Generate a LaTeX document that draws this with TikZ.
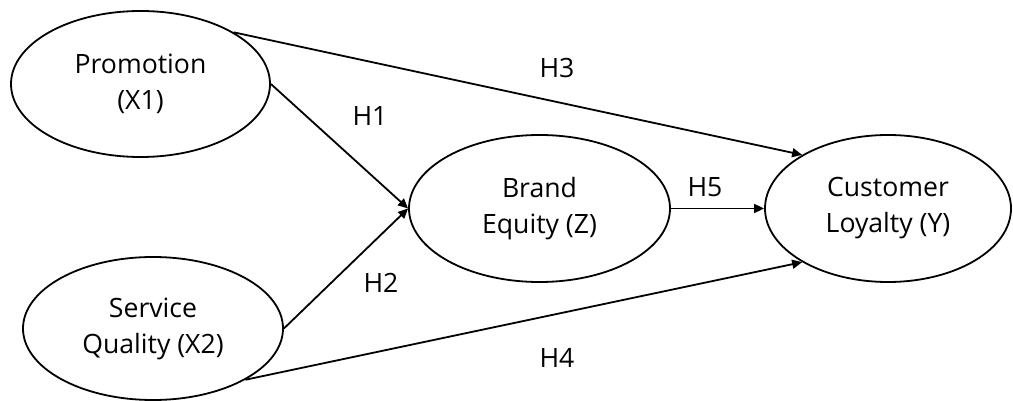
\documentclass[tikz,border=0pt]{standalone}
\usepackage{fontspec}
\setmainfont{Open Sans}
\usetikzlibrary{shapes.geometric,arrows.meta}
\begin{document}
\begin{tikzpicture}[x=1pt,y=1pt,
  latent/.style={draw=black, line width=1.8pt, ellipse, inner sep=0pt, align=center,
    font=\fontsize{26.6}{36}\selectfont},
  hlabel/.style={font=\fontsize{26.6}{36}\selectfont, inner sep=0pt},
  path/.style={line width=1.8pt, -{Triangle[length=10pt,width=9pt]}}]
\useasboundingbox (0,0) rectangle (1013,-401);
\node[latent, minimum width=259pt, minimum height=146pt] (P) at (140.5,-84) {Promotion\\(X1)};
\node[latent, minimum width=260pt, minimum height=143pt] (S) at (153,-328.5) {Service\\Quality (X2)};
\node[latent, minimum width=261pt, minimum height=147pt] (B) at (539.5,-208.5) {Brand\\Equity (Z)};
\node[latent, minimum width=246pt, minimum height=147pt] (C) at (888,-208.5) {Customer\\Loyalty (Y)};
\draw[path] (P.29) -- (C.148);
\draw[path] (P.east) -- (B.west);
\draw[path] (S.east) -- (B.west);
\draw[path] (S.-29) -- (C.212);
\draw[path] (B.east) -- (C.west);
\node[hlabel] (h1) at (370,-116) {H1};
\node[hlabel] (h2) at (381,-283) {H2};
\node[hlabel] (h3) at (557,-68) {H3};
\node[hlabel] (h4) at (557,-358) {H4};
\node[hlabel] (h5) at (705,-187) {H5};
\end{tikzpicture}
\end{document}
